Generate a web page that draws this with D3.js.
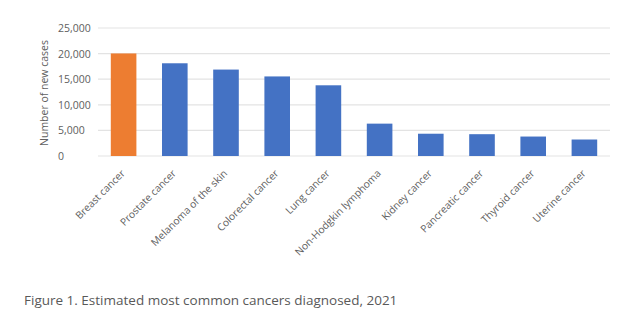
<!DOCTYPE html>
<html><head><meta charset="utf-8">
<script src="https://cdn.jsdelivr.net/npm/d3@7"></script>
<style>body{margin:0;background:#fff;} text{font-family:"Open Sans",sans-serif;}</style>
</head><body>
<svg id="c" width="632" height="335"></svg>
<script>
const categories = ["Breast cancer","Prostate cancer","Melanoma of the skin","Colorectal cancer","Lung cancer","Non-Hodgkin lymphoma","Kidney cancer","Pancreatic cancer","Thyroid cancer","Uterine cancer"];
const values = [20030, 18110, 16880, 15540, 13810, 6320, 4350, 4260, 3800, 3220];
const highlight = ["Breast cancer"];
const yTicks = [0, 5000, 10000, 15000, 20000, 25000];
const yLabel = "Number of new cases";
const caption = "Figure 1. Estimated most common cancers diagnosed, 2021";

const svg = d3.select("#c");
const L = 98, R = 610, T = 28, B = 156;
const x = d3.scaleBand().domain(categories).range([L, R]).paddingInner(0.5).paddingOuter(0.25);
const y = d3.scaleLinear().domain([0, 25000]).range([B, T]);

// gridlines
svg.append("g").selectAll("line").data(yTicks).join("line")
  .attr("x1", L).attr("x2", R)
  .attr("y1", d => y(d)).attr("y2", d => y(d))
  .attr("stroke", "#e3e3e3").attr("stroke-width", 1.2);

// y tick labels (left aligned)
svg.append("g").selectAll("text").data(yTicks).join("text")
  .attr("x", 58).attr("y", d => y(d) + 4)
  .attr("font-size", 10.5).attr("fill", "#606060")
  .text(d => d3.format(",")(d));

// bars
svg.append("g").selectAll("rect").data(categories).join("rect")
  .attr("x", d => x(d)).attr("width", x.bandwidth())
  .attr("y", (d, i) => y(values[i])).attr("height", (d, i) => B - y(values[i]))
  .attr("fill", d => highlight.includes(d) ? "#ED7D31" : "#4472C4");

// x labels
svg.append("g").selectAll("text").data(categories).join("text")
  .attr("transform", d => `translate(${x(d) + x.bandwidth() / 2 + 2},${B + 18}) rotate(-45)`)
  .attr("text-anchor", "end").attr("font-size", 10.2).attr("fill", "#606060")
  .text(d => d);

// y axis label
svg.append("text")
  .attr("transform", `translate(48,${(T + B) / 2 + 1}) rotate(-90)`)
  .attr("text-anchor", "middle").attr("font-size", 10.5).attr("fill", "#606060")
  .text(yLabel);

// caption
svg.append("text").attr("x", 24).attr("y", 305)
  .attr("font-size", 13.5).attr("fill", "#595959")
  .text(caption);
</script>
</body></html>
